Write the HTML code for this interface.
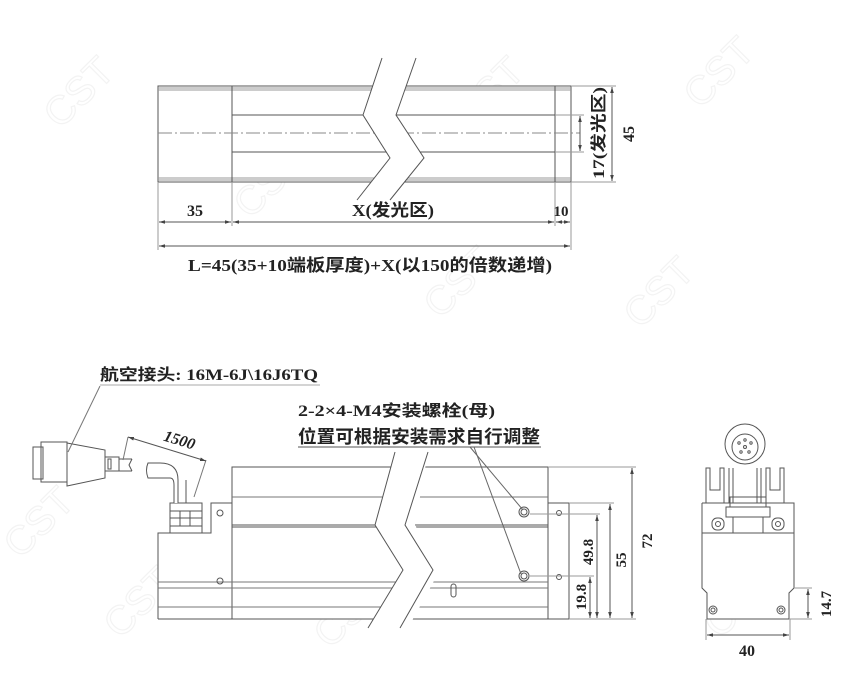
<!DOCTYPE html>
<html><head><meta charset="utf-8"><style>
html,body{margin:0;padding:0;background:#fff;}
svg{display:block;}
text{font-family:"Liberation Serif","Noto Sans CJK SC",serif;font-weight:bold;fill:#222;}
.w{fill:none;stroke:#f3f3f3;font-family:'Liberation Sans',sans-serif;font-weight:normal;}
</style></head><body>
<svg width="860" height="696" viewBox="0 0 860 696" xmlns="http://www.w3.org/2000/svg">
<defs>
<marker id="a" viewBox="0 0 10 10" refX="10" refY="5" markerWidth="6" markerHeight="6" orient="auto-start-reverse"><path d="M0,2 L10,5 L0,8 z" fill="#444"/></marker>
</defs>
<g stroke-width="1.2" font-size="40">
<text class="w" transform="translate(60,130) rotate(-45)">CST</text>
<text class="w" transform="translate(250,220) rotate(-45)">CST</text>
<text class="w" transform="translate(470,130) rotate(-45)">CST</text>
<text class="w" transform="translate(700,110) rotate(-45)">CST</text>
<text class="w" transform="translate(440,320) rotate(-45)">CST</text>
<text class="w" transform="translate(640,330) rotate(-45)">CST</text>
<text class="w" transform="translate(20,560) rotate(-45)">CST</text>
<text class="w" transform="translate(120,640) rotate(-45)">CST</text>
<text class="w" transform="translate(330,650) rotate(-45)">CST</text>
<text class="w" transform="translate(720,640) rotate(-45)">CST</text>
</g>

<!-- TOP VIEW -->
<g stroke="#555" stroke-width="1" fill="none">
<rect x="158" y="86" width="413" height="96" fill="#fff"/>
<line x1="158" y1="88" x2="571" y2="88" stroke="#999"/>
<line x1="158" y1="90" x2="571" y2="90" stroke="#999"/>
<line x1="158" y1="178" x2="571" y2="178" stroke="#999"/>
<line x1="158" y1="180" x2="571" y2="180" stroke="#999"/>
<line x1="232" y1="86" x2="232" y2="182"/>
<line x1="555" y1="86" x2="555" y2="182"/>
<line x1="232" y1="115" x2="555" y2="115"/>
<line x1="232" y1="152" x2="555" y2="152"/>
<line x1="158" y1="133" x2="580" y2="133" stroke="#888" stroke-dasharray="14,3,2,3"/>
<polygon points="382,58 363,115 390,158 357,200 390,200 424,158 396,115 416,58" fill="#fff" stroke="none"/>
<polyline points="382,58 363,115 390,158 357,200"/>
<polyline points="416,58 396,115 424,158 390,200"/>
<line x1="158" y1="182" x2="158" y2="250" stroke="#999"/>
<line x1="232" y1="182" x2="232" y2="226" stroke="#999"/>
<line x1="555" y1="182" x2="555" y2="226" stroke="#999"/>
<line x1="571" y1="182" x2="571" y2="250" stroke="#999"/>
<line x1="159" y1="222" x2="231" y2="222" marker-start="url(#a)" marker-end="url(#a)"/>
<line x1="233" y1="222" x2="554" y2="222" marker-start="url(#a)" marker-end="url(#a)"/>
<line x1="556" y1="222" x2="570" y2="222" marker-start="url(#a)" marker-end="url(#a)"/>
<line x1="159" y1="246" x2="570" y2="246" marker-start="url(#a)" marker-end="url(#a)"/>
<line x1="555" y1="115" x2="584" y2="115" stroke="#999"/>
<line x1="555" y1="152" x2="584" y2="152" stroke="#999"/>
<line x1="580" y1="116" x2="580" y2="151" marker-start="url(#a)" marker-end="url(#a)"/>
<line x1="571" y1="86" x2="616" y2="86" stroke="#999"/>
<line x1="571" y1="182" x2="616" y2="182" stroke="#999"/>
<line x1="612" y1="87" x2="612" y2="181" marker-start="url(#a)" marker-end="url(#a)"/>
</g>
<text x="195" y="216" font-size="16" text-anchor="middle">35</text>
<text x="352" y="216" font-size="17" textLength="82" lengthAdjust="spacingAndGlyphs">X(发光区)</text>
<text x="561" y="216" font-size="15" text-anchor="middle">10</text>
<text x="188" y="271" font-size="17" textLength="364" lengthAdjust="spacingAndGlyphs">L=45(35+10端板厚度)+X(以150的倍数递增)</text>
<text transform="translate(604,179) rotate(-90)" font-size="16" textLength="92" lengthAdjust="spacingAndGlyphs">17(发光区)</text>
<text transform="translate(634,134) rotate(-90)" font-size="16" text-anchor="middle">45</text>

<!-- FRONT VIEW -->
<g stroke="#555" stroke-width="1" fill="none">
<polyline points="158,619 158,533 211,533 211,503 232,503 232,467 548,467 548,503 569,503 569,619 158,619" fill="#fff"/>
<line x1="232" y1="467" x2="232" y2="619"/>
<line x1="548" y1="503" x2="548" y2="619"/>
<line x1="232" y1="497" x2="548" y2="497" stroke="#777"/>
<line x1="232" y1="525" x2="548" y2="525"/>
<line x1="232" y1="527" x2="548" y2="527"/>
<line x1="158" y1="582" x2="548" y2="582" stroke="#777"/>
<line x1="158" y1="588" x2="548" y2="588" stroke="#777"/>
<line x1="158" y1="607" x2="548" y2="607" stroke="#777"/>
<circle cx="220" cy="513" r="3"/><circle cx="220" cy="581" r="3"/>
<circle cx="559" cy="513" r="2.5"/><circle cx="559" cy="577" r="2.5"/>
<rect x="451" y="584" width="5" height="13" rx="2.5"/>
<circle cx="524" cy="512" r="5"/><circle cx="524" cy="512" r="3"/>
<circle cx="524" cy="576" r="5"/><circle cx="524" cy="576" r="3"/>
<polygon points="395,452 375,525 403,570 368,628 408,628 440,570 415,525 428,452" fill="#fff" stroke="none"/>
<polyline points="395,452 375,525 403,570 368,628"/>
<polyline points="428,452 405,525 433,570 400,628"/>
<rect x="170" y="503" width="32" height="30" fill="#fff"/>
<line x1="170" y1="511" x2="202" y2="511"/><line x1="170" y1="518" x2="202" y2="518"/><line x1="170" y1="526" x2="202" y2="526"/>
<line x1="180" y1="511" x2="180" y2="526"/><line x1="190" y1="511" x2="190" y2="526"/>
<path d="M178,503 L178,480 Q178,463 160,463 L148,463 Q145,470 148,478 L170,478 Q174,478 174,485 L174,503" fill="#fff"/>
<path d="M186,503 L186,480" />
<rect x="33" y="447" width="10" height="32"/>
<rect x="41" y="442" width="26" height="40"/>
<polygon points="67,443 105,450 105,478 67,486"/>
<rect x="105" y="457" width="14" height="14"/>
<rect x="108" y="459" width="3" height="10"/>
<line x1="119" y1="459" x2="132" y2="459"/><line x1="119" y1="471" x2="132" y2="471"/>
<path d="M132,459 L129,465 L132,471"/>
<line x1="123" y1="460" x2="128" y2="437" stroke="#777"/>
<line x1="194" y1="497" x2="206" y2="460" stroke="#777"/>
<line x1="128" y1="437" x2="206" y2="461" marker-start="url(#a)" marker-end="url(#a)"/>
<line x1="100" y1="385" x2="320" y2="385" stroke="#aaa"/>
<line x1="100" y1="386" x2="68" y2="452" stroke="#777"/>
<line x1="298" y1="447" x2="541" y2="447"/>
<line x1="470" y1="447" x2="523" y2="510" stroke="#666"/>
<line x1="474" y1="447" x2="521" y2="574" stroke="#666"/>
<line x1="548" y1="467" x2="636" y2="467" stroke="#999"/>
<line x1="569" y1="503" x2="614" y2="503" stroke="#999"/>
<line x1="530" y1="514" x2="600" y2="514" stroke="#999"/>
<line x1="530" y1="576" x2="594" y2="576" stroke="#999"/>
<line x1="569" y1="619" x2="636" y2="619" stroke="#999"/>
<line x1="590" y1="577" x2="590" y2="618" marker-start="url(#a)" marker-end="url(#a)"/>
<line x1="597" y1="515" x2="597" y2="618" marker-start="url(#a)" marker-end="url(#a)"/>
<line x1="610" y1="504" x2="610" y2="618" marker-start="url(#a)" marker-end="url(#a)"/>
<line x1="632" y1="468" x2="632" y2="618" marker-start="url(#a)" marker-end="url(#a)"/>
</g>
<text x="100" y="380" font-size="16" textLength="218" lengthAdjust="spacingAndGlyphs">航空接头: 16M-6J\16J6TQ</text>
<text transform="translate(178,445) rotate(17)" font-size="16" font-style="italic" text-anchor="middle">1500</text>
<text x="298" y="416" font-size="16" textLength="197" lengthAdjust="spacingAndGlyphs">2-2×4-M4安装螺栓(母)</text>
<text x="298" y="443" font-size="18" textLength="242" lengthAdjust="spacingAndGlyphs">位置可根据安装需求自行调整</text>
<text transform="translate(586,597) rotate(-90)" font-size="15" text-anchor="middle">19.8</text>
<text transform="translate(593,552) rotate(-90)" font-size="15" text-anchor="middle">49.8</text>
<text transform="translate(626,560) rotate(-90)" font-size="15" text-anchor="middle">55</text>
<text transform="translate(652,541) rotate(-90)" font-size="15" text-anchor="middle">72</text>

<!-- SIDE VIEW -->
<g stroke="#555" stroke-width="1" fill="none">
<circle cx="745" cy="444" r="20"/>
<circle cx="745" cy="447" r="13"/>
<circle cx="745" cy="447" r="1.5"/><circle cx="739" cy="443" r="1.2"/><circle cx="751" cy="443" r="1.2"/><circle cx="741" cy="452" r="1.2"/><circle cx="749" cy="452" r="1.2"/><circle cx="745" cy="440" r="1.2"/>
<polyline points="706,503 706,468 710,468 710,490 720,490 720,468 724,468 724,503"/>
<polyline points="784,503 784,468 780,468 780,490 770,490 770,468 766,468 766,503"/>
<line x1="729" y1="468" x2="729" y2="503"/><line x1="733" y1="468" x2="733" y2="503"/>
<line x1="757" y1="468" x2="757" y2="503"/><line x1="761" y1="468" x2="761" y2="503"/>
<polyline points="702,503 702,588 707,593 707,619 789,619 789,593 794,588 794,503 702,503" fill="#fff"/>
<line x1="702" y1="533" x2="794" y2="533"/>
<rect x="730" y="497" width="36" height="10"/>
<rect x="726" y="507" width="44" height="10"/>
<rect x="733" y="517" width="30" height="16"/>
<rect x="712" y="518" width="12" height="12" rx="5"/><circle cx="718" cy="524" r="2.5"/>
<rect x="772" y="518" width="12" height="12" rx="5"/><circle cx="778" cy="524" r="2.5"/>
<circle cx="713" cy="610" r="4"/><circle cx="713" cy="610" r="2"/>
<circle cx="781" cy="610" r="4"/><circle cx="781" cy="610" r="2"/>
<line x1="706" y1="619" x2="706" y2="640" stroke="#999"/>
<line x1="790" y1="619" x2="790" y2="640" stroke="#999"/>
<line x1="707" y1="635" x2="789" y2="635" marker-start="url(#a)" marker-end="url(#a)"/>
<line x1="794" y1="588" x2="812" y2="588" stroke="#999"/>
<line x1="789" y1="619" x2="812" y2="619" stroke="#999"/>
<line x1="808" y1="589" x2="808" y2="618" marker-start="url(#a)" marker-end="url(#a)"/>
</g>
<text x="747" y="656" font-size="16" text-anchor="middle">40</text>
<text transform="translate(831,604) rotate(-90)" font-size="15" text-anchor="middle">14.7</text>
</svg>
</body></html>
